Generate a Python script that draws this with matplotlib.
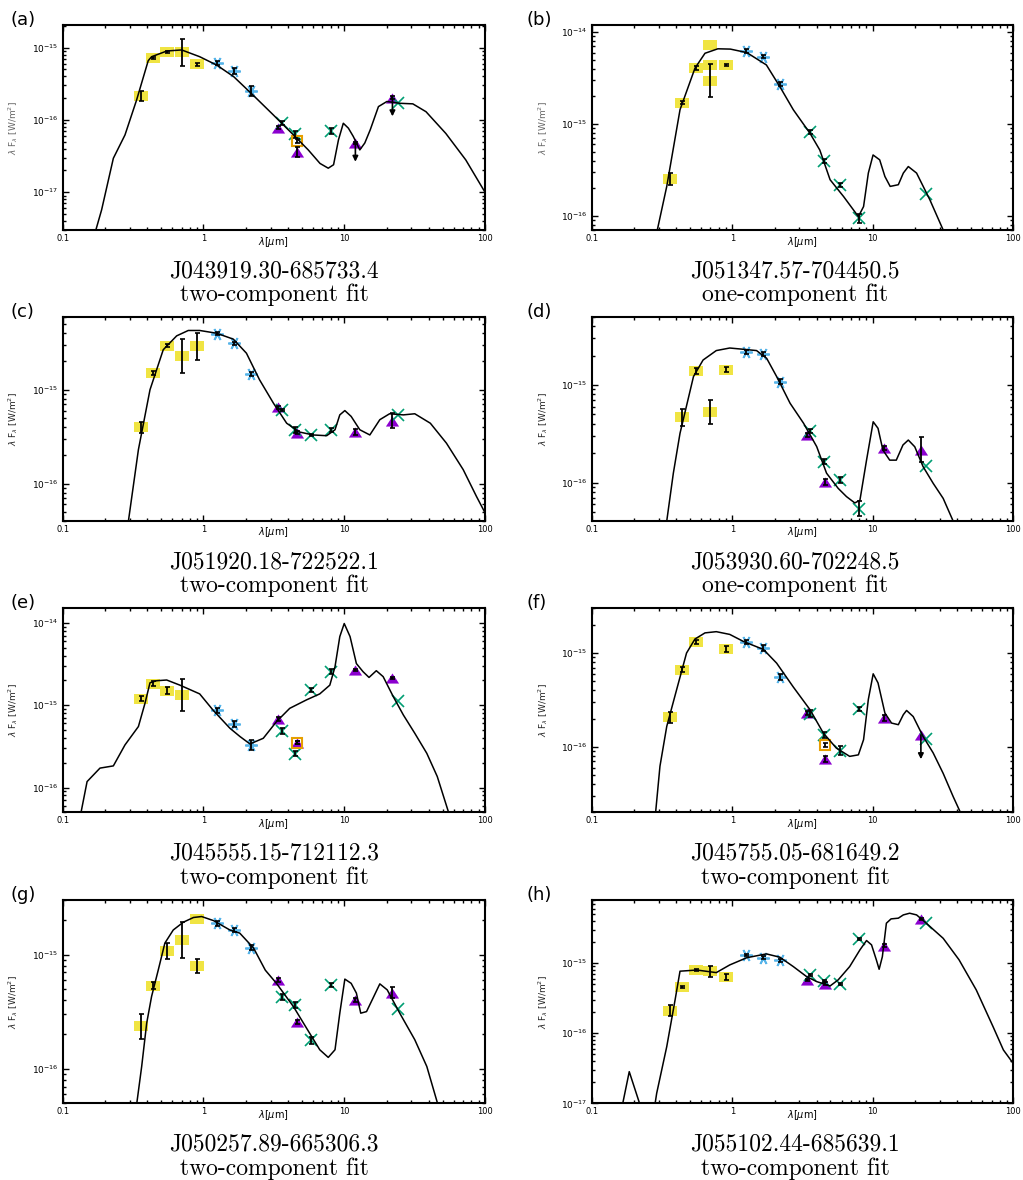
import numpy as np
import matplotlib
matplotlib.use("Agg")
import matplotlib.pyplot as plt
from matplotlib.ticker import (LogLocator, FixedLocator, FuncFormatter, NullFormatter,
                               LogFormatterSciNotation)

# photometric bands and their wavelengths [um]
band_names = ['U', 'B', 'V', 'R', 'I', 'J', 'H', 'K',
              'W1', 'I1', 'I2', 'O', 'W2', 'I3', 'I4', 'W3', 'W4', 'M24']
band_lam = [0.36, 0.44, 0.55, 0.70, 0.90, 1.25, 1.65, 2.17,
            3.4, 3.6, 4.5, 4.6, 4.6, 5.8, 8.0, 12.0, 22.0, 24.0]

# (a) J043919.30-685733.4
a_bands = ['U', 'B', 'V', 'R', 'I', 'J', 'H', 'K', 'W1', 'I1', 'I2', 'O', 'W2', 'I4', 'W3', 'W4', 'M24']
a_flux = [2.15e-16, 7.2e-16, 8.6e-16, 8.6e-16, 5.9e-16, 6.1e-16, 4.75e-16, 2.5e-16, 7.8e-17,
          9.0e-17, 6.3e-17, 5.1e-17, 3.65e-17, 7.1e-17, 4.8e-17, 2.04e-16, 1.74e-16]
a_err = [0.07, 0.02, 0.015, 0.185, 0.02, 0.03, 0.04, 0.07, 0.02, 0.03, 0.05, 0.03, 0.07, 0.04, 0.02, 0.02, 0.0]
a_uplims = ['W3', 'W4']
a_fit_lam = [0.172, 0.189, 0.229, 0.277, 0.335, 0.405, 0.428, 0.55, 0.70, 0.94, 1.24, 1.64, 2.27, 3.14,
             4.36, 5.55, 6.73, 7.7, 8.4, 9.1, 9.85, 10.7, 11.6, 12.9, 14.0, 15.3, 17.5, 20.1, 24.8,
             30.7, 38.1, 52.7, 73.0, 100.0]
a_fit_flux = [3.0e-18, 5.7e-18, 2.95e-17, 6.2e-17, 1.89e-16, 6.6e-16, 7.5e-16, 9.0e-16, 9.3e-16, 7.5e-16,
              5.75e-16, 3.97e-16, 2.17e-16, 1.17e-16, 6.2e-17, 3.85e-17, 2.5e-17, 2.15e-17, 2.4e-17,
              5.3e-17, 9.0e-17, 7.7e-17, 5.9e-17, 3.85e-17, 4.8e-17, 7.3e-17, 1.53e-16, 1.8e-16,
              1.7e-16, 1.67e-16, 1.3e-16, 6.5e-17, 2.8e-17, 1.0e-17]

# (b) J051347.57-704450.5
b_bands = ['U', 'B', 'V', 'R', 'R', 'R', 'I', 'J', 'H', 'K', 'I1', 'I2', 'I3', 'I4', 'M24']
b_flux = [2.53e-16, 1.71e-15, 4.06e-15, 7.3e-15, 4.4e-15, 2.95e-15, 4.4e-15, 6.2e-15, 5.43e-15,
          2.74e-15, 8.15e-16, 3.94e-16, 2.18e-16, 9.35e-17, 1.74e-16]
b_err = [0.063, 0.02, 0.02, 0.0, 0.0, 0.18, 0.015, 0.02, 0.02, 0.02, 0.02, 0.02, 0.02, 0.05, 0.0]
b_uplims = []
b_fit_lam = [0.293, 0.342, 0.425, 0.543, 0.64, 0.79, 0.97, 1.27, 1.75, 2.18, 2.72, 3.58, 4.2, 4.97,
             6.2, 7.9, 8.6, 9.3, 10.05, 11.2, 12.2, 13.3, 15.2, 16.5, 17.9, 20.5, 25.5, 31.7]
b_fit_flux = [7e-17, 2.09e-16, 1.43e-15, 4.06e-15, 5.9e-15, 6.6e-15, 6.55e-15, 6.0e-15, 4.4e-15,
              2.56e-15, 1.43e-15, 7.9e-16, 5.2e-16, 2.47e-16, 1.62e-16, 9.8e-17, 1.26e-16, 2.92e-16,
              4.6e-16, 4.07e-16, 2.68e-16, 2.09e-16, 2.18e-16, 2.92e-16, 3.44e-16, 2.92e-16,
              1.49e-16, 7e-17]

# (c) J051920.18-722522.1
c_bands = ['U', 'B', 'V', 'R', 'I', 'J', 'H', 'K', 'W1', 'I1', 'I2', 'W2', 'I3', 'I4', 'W3', 'W4', 'M24']
c_flux = [3.97e-16, 1.52e-15, 2.94e-15, 2.28e-15, 2.89e-15, 3.97e-15, 3.14e-15, 1.48e-15, 6.5e-16,
          6.1e-16, 3.7e-16, 3.5e-16, 3.3e-16, 3.7e-16, 3.55e-16, 4.7e-16, 5.4e-16]
c_err = [0.06, 0.02, 0.015, 0.18, 0.14, 0.015, 0.015, 0.02, 0.015, 0.015, 0.03, 0.02, 0.015, 0.02,
         0.03, 0.08, 0.0]
c_uplims = []
c_fit_lam = [0.293, 0.345, 0.417, 0.518, 0.645, 0.78, 0.94, 1.24, 1.63, 2.02, 2.5, 3.14, 3.9, 4.8,
             6.0, 7.5, 8.6, 9.3, 10.1, 11.2, 12.9, 15.2, 17.9, 21.0, 26.3, 31.7, 40.9, 53.2, 70.0,
             87.0, 100.0]
c_fit_flux = [4e-17, 2.3e-16, 1e-15, 2.67e-15, 3.75e-15, 4.28e-15, 4.28e-15, 4.0e-15, 3.46e-15,
              2.45e-15, 1.28e-15, 7.2e-16, 4.4e-16, 3.55e-16, 3.3e-16, 3.24e-16, 3.75e-16, 5.4e-16,
              6.0e-16, 5.2e-16, 3.75e-16, 3.3e-16, 4.8e-16, 5.55e-16, 5.4e-16, 5.55e-16, 4.4e-16,
              2.7e-16, 1.41e-16, 7.3e-17, 4.9e-17]

# (d) J053930.60-702248.5
d_bands = ['B', 'V', 'R', 'I', 'J', 'H', 'K', 'W1', 'I1', 'I2', 'W2', 'I3', 'I4', 'W3', 'W4', 'M24']
d_flux = [4.67e-16, 1.40e-15, 5.3e-16, 1.44e-15, 2.16e-15, 2.08e-15, 1.08e-15, 3.08e-16, 3.38e-16,
          1.63e-16, 1.02e-16, 1.06e-16, 5.4e-17, 2.28e-16, 2.16e-16, 1.49e-16]
d_err = [0.085, 0.03, 0.12, 0.025, 0.02, 0.02, 0.025, 0.02, 0.02, 0.025, 0.03, 0.03, 0.077, 0.02,
         0.128, 0.0]
d_uplims = []
d_fit_lam = [0.342, 0.381, 0.425, 0.53, 0.62, 0.77, 0.96, 1.2, 1.49, 1.76, 2.07, 2.58, 3.22, 3.99,
             4.69, 5.67, 6.5, 7.45, 8.1, 9.03, 10.07, 10.9, 11.8, 13.2, 14.7, 16.4, 17.9, 19.9, 22.8,
             26.9, 31.7, 37.3]
d_fit_flux = [4.05e-17, 1.25e-16, 3.2e-16, 1.22e-15, 1.8e-15, 2.25e-15, 2.39e-15, 2.32e-15, 2.25e-15,
              1.87e-15, 1.22e-15, 6.5e-16, 4.05e-16, 2.34e-16, 1.25e-16, 8.75e-17, 7.2e-17, 6.2e-17,
              6.6e-17, 1.7e-16, 4.2e-16, 3.6e-16, 2.16e-16, 1.7e-16, 1.7e-16, 2.43e-16, 2.73e-16,
              2.33e-16, 1.46e-16, 9.85e-17, 6.9e-17, 4.05e-17]

# (e) J045555.15-712112.3
e_bands = ['U', 'B', 'V', 'R', 'J', 'H', 'K', 'W1', 'I1', 'I2', 'O', 'W2', 'I3', 'I4', 'W3', 'W4', 'M24']
e_flux = [1.2e-15, 1.81e-15, 1.5e-15, 1.33e-15, 8.7e-16, 5.9e-16, 3.3e-16, 6.8e-16, 4.86e-16,
          2.58e-16, 3.5e-16, 3.5e-16, 1.51e-15, 2.55e-15, 2.67e-15, 2.13e-15, 1.12e-15]
e_err = [0.03, 0.03, 0.04, 0.19, 0.03, 0.04, 0.06, 0.02, 0.04, 0.03, 0.02, 0.02, 0.025, 0.03, 0.01,
         0.015, 0.0]
e_uplims = []
e_fit_lam = [0.135, 0.149, 0.184, 0.229, 0.277, 0.345, 0.384, 0.417, 0.465, 0.548, 0.68, 0.94, 1.17,
             1.54, 1.82, 2.14, 2.66, 3.3, 4.1, 5.4, 6.7, 7.9, 8.6, 9.3, 10.0, 11.0, 12.2, 13.6, 15.0,
             16.9, 18.9, 22.3, 26.3, 31.7, 38.6, 45.8, 55.1]
e_fit_flux = [5e-17, 1.18e-16, 1.72e-16, 1.83e-16, 3.29e-16, 5.5e-16, 1.05e-15, 1.87e-15, 1.98e-15,
              2.02e-15, 1.75e-15, 1.37e-15, 8.7e-16, 5.25e-16, 4.15e-16, 3.38e-16, 3.96e-16, 6.3e-16,
              9.15e-16, 1.16e-15, 1.37e-15, 1.75e-15, 2.93e-15, 6.8e-15, 9.8e-15, 6.8e-15, 3.2e-15,
              2.55e-15, 2.17e-15, 2.62e-15, 2.22e-15, 1.27e-15, 7.6e-16, 4.56e-16, 2.6e-16, 1.36e-16,
              5e-17]

# (f) J045755.05-681649.2
f_bands = ['U', 'B', 'V', 'I', 'J', 'H', 'K', 'W1', 'I1', 'I2', 'O', 'W2', 'I3', 'I4', 'W3', 'W4', 'M24']
f_flux = [2.07e-16, 6.64e-16, 1.31e-15, 1.11e-15, 1.31e-15, 1.13e-15, 5.54e-16, 2.29e-16, 2.25e-16,
          1.34e-16, 1.05e-16, 7.45e-17, 9.1e-17, 2.55e-16, 2.02e-16, 1.34e-16, 1.21e-16]
f_err = [0.06, 0.025, 0.025, 0.03, 0.02, 0.03, 0.03, 0.02, 0.035, 0.03, 0.02, 0.03, 0.045, 0.02,
         0.03, 0.0, 0.0]
f_uplims = ['W4']
f_fit_lam = [0.285, 0.306, 0.342, 0.402, 0.473, 0.543, 0.64, 0.77, 0.96, 1.2, 1.67, 2.07, 2.72, 3.58,
             4.45, 5.5, 6.85, 7.9, 8.6, 9.3, 10.07, 10.9, 12.2, 13.6, 15.2, 16.5, 17.4, 19.4, 22.8,
             26.9, 31.7, 37.3, 42.0]
f_fit_flux = [2e-17, 6.2e-17, 1.65e-16, 4.06e-16, 1e-15, 1.41e-15, 1.64e-15, 1.69e-15, 1.58e-15,
              1.33e-15, 1.09e-15, 7.8e-16, 4.34e-16, 2.48e-16, 1.4e-16, 9.7e-17, 7.9e-17, 8.2e-17,
              1.19e-16, 3.2e-16, 6.0e-16, 4.8e-16, 2.29e-16, 1.79e-16, 1.72e-16, 2.2e-16, 2.44e-16,
              2.1e-16, 1.29e-16, 8.6e-17, 5.2e-17, 2.95e-17, 2e-17]

# (g) J050257.89-665306.3
g_bands = ['U', 'B', 'V', 'R', 'I', 'I', 'J', 'H', 'K', 'W1', 'I1', 'I2', 'W2', 'I3', 'I4', 'W3', 'W4', 'M24']
g_flux = [2.35e-16, 5.32e-16, 1.08e-15, 1.34e-15, 2.05e-15, 7.96e-16, 1.87e-15, 1.64e-15, 1.15e-15,
          6.0e-16, 4.24e-16, 3.6e-16, 2.56e-16, 1.78e-16, 5.43e-16, 4.02e-16, 4.65e-16, 3.35e-16]
g_err = [0.107, 0.03, 0.07, 0.156, 0.0, 0.064, 0.02, 0.02, 0.02, 0.015, 0.025, 0.025, 0.02, 0.03,
         0.015, 0.02, 0.05, 0.0]
g_uplims = []
g_fit_lam = [0.336, 0.364, 0.395, 0.428, 0.477, 0.532, 0.61, 0.72, 0.85, 0.97, 1.18, 1.54, 1.81, 2.27,
             2.75, 3.3, 4.36, 5.4, 6.7, 7.7, 8.6, 9.3, 10.1, 11.2, 12.2, 13.1, 14.4, 16.0, 17.9, 20.2,
             24.8, 31.7, 38.6, 46.0]
g_fit_flux = [5e-17, 1.05e-16, 2.51e-16, 4.3e-16, 7.3e-16, 1.26e-15, 1.64e-15, 1.92e-15, 2.11e-15,
              2.15e-15, 1.98e-15, 1.64e-15, 1.54e-15, 1.14e-15, 7.3e-16, 5.6e-16, 3.5e-16, 2.27e-16,
              1.47e-16, 1.26e-16, 1.47e-16, 3.07e-16, 6.1e-16, 5.6e-16, 4.6e-16, 3.07e-16, 3.17e-16,
              4.15e-16, 5.54e-16, 4.91e-16, 3.07e-16, 1.8e-16, 1.05e-16, 5e-17]

# (h) J055102.44-685639.1
h_bands = ['U', 'B', 'V', 'R', 'I', 'J', 'H', 'K', 'W1', 'I1', 'I2', 'W2', 'I3', 'I4', 'W3', 'W4', 'M24']
h_flux = [2.11e-16, 4.59e-16, 8.0e-16, 7.7e-16, 6.3e-16, 1.31e-15, 1.2e-15, 1.1e-15, 5.8e-16, 6.7e-16,
          5.5e-16, 5.07e-16, 5.0e-16, 2.23e-15, 1.79e-15, 4.3e-15, 3.81e-15]
h_err = [0.083, 0.02, 0.02, 0.08, 0.04, 0.02, 0.02, 0.02, 0.015, 0.015, 0.015, 0.02, 0.015, 0.01,
         0.02, 0.015, 0.0]
h_uplims = []
h_fit_lam = [0.155, 0.185, 0.245, 0.268, 0.29, 0.342, 0.392, 0.425, 0.56, 0.77, 0.96, 1.27, 1.75, 2.18,
             2.72, 3.38, 3.99, 4.97, 5.67, 6.85, 8.1, 9.03, 9.8, 10.6, 11.1, 11.7, 12.5, 13.5, 15.2,
             16.5, 18.3, 20.5, 23.3, 31.7, 41.1, 54.5, 71.8, 85.0, 100.0]
h_fit_flux = [5e-18, 2.83e-17, 5e-18, 5e-18, 1.39e-17, 6.45e-17, 2.99e-16, 7.7e-16, 8.0e-16, 7.35e-16,
              9.46e-16, 1.2e-15, 1.36e-15, 1.22e-15, 8.96e-16, 6.45e-16, 5.47e-16, 4.74e-16, 5.78e-16,
              8.96e-16, 1.55e-15, 2.11e-15, 1.83e-15, 1.12e-15, 8.2e-16, 1.24e-15, 3.73e-15, 4.3e-15,
              4.4e-15, 4.9e-15, 5.18e-15, 4.9e-15, 3.94e-15, 2.27e-15, 1.12e-15, 4.16e-16, 1.24e-16,
              5.78e-17, 3.7e-17]

panel_labels = ['(a)', '(b)', '(c)', '(d)', '(e)', '(f)', '(g)', '(h)']
source_names = ['J043919.30-685733.4', 'J051347.57-704450.5', 'J051920.18-722522.1',
                'J053930.60-702248.5', 'J045555.15-712112.3', 'J045755.05-681649.2',
                'J050257.89-665306.3', 'J055102.44-685639.1']
fit_kinds = ['two-component fit', 'one-component fit', 'two-component fit', 'one-component fit',
             'two-component fit', 'two-component fit', 'two-component fit', 'two-component fit']

panels = [
    (a_bands, a_flux, a_err, a_uplims, a_fit_lam, a_fit_flux),
    (b_bands, b_flux, b_err, b_uplims, b_fit_lam, b_fit_flux),
    (c_bands, c_flux, c_err, c_uplims, c_fit_lam, c_fit_flux),
    (d_bands, d_flux, d_err, d_uplims, d_fit_lam, d_fit_flux),
    (e_bands, e_flux, e_err, e_uplims, e_fit_lam, e_fit_flux),
    (f_bands, f_flux, f_err, f_uplims, f_fit_lam, f_fit_flux),
    (g_bands, g_flux, g_err, g_uplims, g_fit_lam, g_fit_flux),
    (h_bands, h_flux, h_err, h_uplims, h_fit_lam, h_fit_flux),
]

# axis ranges, layout
ylims = [(3.0e-18, 2.04e-15), (7.0e-17, 1.19e-14), (4.0e-17, 6.0e-15), (4.05e-17, 5.0e-15),
         (5.0e-17, 1.5e-14), (2.0e-17, 3.0e-15), (5.0e-17, 3.0e-15), (1.0e-17, 8.0e-15)]
ylabel_colors = ['#666666', '#666666', '#222222', '#222222', '#222222', '#222222', '#222222', '#222222']

W, H = 1023, 1180
col_left = [62.7, 591.7]
col_width = [422.3, 421.6]
row_top = [25.3, 316.7, 608.3, 900.0]
row_bot = [230.0, 521.0, 812.3, 1103.3]

rect = [(-1.25, -1), (1.25, -1), (1.25, 1), (-1.25, 1), (-1.25, -1)]
tri = [(-1.3, -1), (1.3, -1), (0, 1), (-1.3, -1)]

YELLOW = '#F0E442'
BLUE = '#56B4E9'
GREEN = '#009E73'
ORANGE = '#E69F00'
PURPLE = '#8B00CF'


def band_style(b):
    if b in ('U', 'B', 'V', 'R', 'I'):
        return dict(marker=rect, ms=9.5, mfc=YELLOW, mec=YELLOW, mew=0, zorder=2)
    if b in ('J', 'H', 'K'):
        return dict(marker=(6, 2, 90), ms=9, mfc=BLUE, mec=BLUE, mew=1.3, zorder=2)
    if b in ('W1', 'W2', 'W3', 'W4'):
        return dict(marker=tri, ms=9.5, mfc=PURPLE, mec=PURPLE, mew=0, zorder=2)
    if b == 'O':
        return dict(marker='s', ms=7.5, mfc='none', mec=ORANGE, mew=1.5, zorder=3)
    return dict(marker='x', ms=8, mfc=GREEN, mec=GREEN, mew=1.2, zorder=3)


plt.rcParams['mathtext.fontset'] = 'dejavusans'
fig = plt.figure(figsize=(W / 100, H / 100), dpi=100)

for i, (bands, flux, err, uplims, fit_lam, fit_flux) in enumerate(panels):
    col, row = i % 2, i // 2
    left = col_left[col] / W
    bottom = 1 - row_bot[row] / H
    ax = fig.add_axes([left, bottom, col_width[col] / W, (row_bot[row] - row_top[row]) / H])

    lam = [band_lam[band_names.index(b)] for b in bands]
    for b, x, y in zip(bands, lam, flux):
        ax.plot([x], [y], linestyle='none', **band_style(b))

    ax.plot(fit_lam, fit_flux, color='k', lw=1.1, zorder=4)

    for b, x, y, e in zip(bands, lam, flux, err):
        if e > 0:
            lo = y - y * 10 ** (-e)
            hi = y * 10 ** e - y
            ax.errorbar([x], [y], yerr=[[lo], [hi]], fmt='none', ecolor='k',
                        elinewidth=1.3, capsize=1.8, capthick=1.2, zorder=5)
        if b in uplims:
            ax.annotate('', xy=(x, y * 0.55), xytext=(x, y),
                        arrowprops=dict(arrowstyle='-|>', color='k', lw=1.2,
                                        mutation_scale=8, shrinkA=0, shrinkB=0), zorder=6)

    ax.set_xscale('log')
    ax.set_yscale('log')
    y0, y1 = ylims[i]
    ax.set_xlim(0.1, 100)
    ax.set_ylim(y0, y1)

    decades = 10.0 ** np.arange(np.ceil(np.log10(y0) - 1e-9), np.floor(np.log10(y1) + 1e-9) + 1)
    ax.xaxis.set_major_locator(FixedLocator([0.1, 1, 10, 100]))
    ax.xaxis.set_minor_locator(LogLocator(base=10, subs=np.arange(2, 10), numticks=100))
    ax.xaxis.set_major_formatter(FuncFormatter(lambda v, _: f'{v:g}'))
    ax.xaxis.set_minor_formatter(NullFormatter())
    ax.yaxis.set_major_locator(FixedLocator(decades))
    ax.yaxis.set_minor_locator(LogLocator(base=10, subs=np.arange(2, 10), numticks=100))
    ax.yaxis.set_major_formatter(LogFormatterSciNotation())
    ax.yaxis.set_minor_formatter(NullFormatter())

    ax.tick_params(which='both', direction='in', top=True, right=True, width=1.0)
    ax.tick_params(which='major', length=4.5)
    ax.tick_params(which='minor', length=2.5)
    ax.tick_params(axis='x', labelsize=6, pad=3)
    ax.tick_params(axis='y', labelsize=6.5, pad=3)
    for sp in ax.spines.values():
        sp.set_linewidth(1.5)

    ax.set_ylabel(r'$\lambda$ F$_\lambda$ [W/m$^2$]', fontsize=6.5, color=ylabel_colors[i])
    ax.yaxis.set_label_coords(-0.1, 0.5)
    ax.text(0.5, -0.022, r'$\lambda[\mu$m]', transform=ax.transAxes, ha='center', va='top',
            fontsize=7)

    cx = 274 if col == 0 else 795
    fig.text(cx / W, 1 - (row_bot[row] + 41) / H, source_names[i], fontfamily='cmr10',
             fontsize=17, ha='center', va='center')
    fig.text(cx / W, 1 - (row_bot[row] + 65) / H, fit_kinds[i], fontfamily='cmr10',
             fontsize=17, ha='center', va='center')
    fig.text((10 if col == 0 else 527) / W, 1 - (row_top[row] - 5) / H, panel_labels[i],
             fontsize=13, ha='left', va='center')

fig.savefig('out.png', dpi=100)
